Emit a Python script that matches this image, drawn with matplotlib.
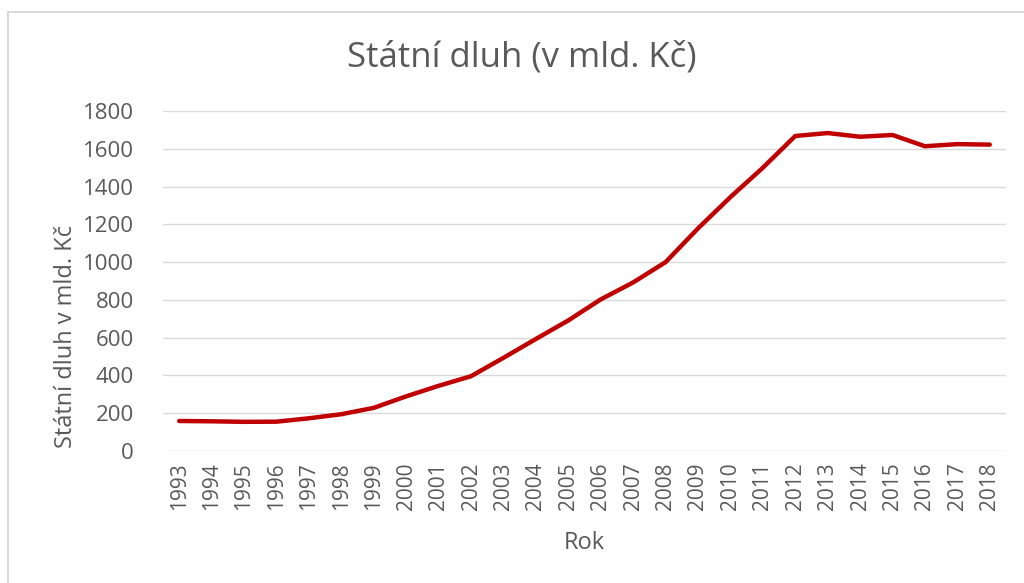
import matplotlib
matplotlib.use("Agg")
import matplotlib.pyplot as plt
from matplotlib.patches import Rectangle

# Data: Czech state debt, bn CZK
years = [str(y) for y in range(1993, 2019)]
debt = [158.8, 157.3, 154.4, 155.2, 173.1, 194.7, 228.4, 289.3, 345.0, 395.9,
        493.2, 592.9, 691.2, 802.5, 892.3, 999.8, 1178.2, 1344.1, 1499.4, 1667.6,
        1683.3, 1663.7, 1673.0, 1613.4, 1624.7, 1622.0]
y_ticks = [0, 200, 400, 600, 800, 1000, 1200, 1400, 1600, 1800]

TEXT = "#595959"
GRID = "#d9d9d9"
plt.rcParams["font.family"] = ["Open Sans", "DejaVu Sans"]

W, H = 1024, 583
fig = plt.figure(figsize=(W / 100, H / 100), dpi=100)

# chart border
fig.patches.append(Rectangle((8 / W, -0.1), 1.2, 1 - 12 / H + 0.1,
                             transform=fig.transFigure, fill=False,
                             edgecolor=GRID, linewidth=1.5))

ax = fig.add_axes([163 / W, 1 - 451 / H, (1006 - 163) / W, (451 - 111) / H])
x = list(range(len(years)))
ax.plot(x, debt, color="#c00000", linewidth=3.2, solid_capstyle="round")

ax.set_xlim(-0.5, len(years) - 0.5)
ax.set_ylim(0, 1800)
ax.set_yticks(y_ticks)
ax.set_xticks(x)
ax.set_xticklabels(years, rotation=90)
ax.grid(axis="y", color=GRID, linewidth=1)
ax.set_axisbelow(True)
for s in ax.spines.values():
    s.set_visible(False)
ax.tick_params(axis="x", length=0, labelsize=15, colors=TEXT, pad=8)
ax.tick_params(axis="y", length=0, labelsize=16, colors=TEXT, pad=21)

fig.text(522 / W, 1 - 57 / H, "Státní dluh (v mld. Kč)", ha="center",
         va="center", fontsize=25, color=TEXT)
fig.text(66 / W, 1 - 336 / H, "Státní dluh v mld. Kč", ha="center",
         va="center", rotation=90, fontsize=17, color=TEXT)
fig.text(584 / W, 1 - 543 / H, "Rok", ha="center", va="center",
         fontsize=17, color=TEXT)

fig.savefig("out.png", dpi=100)
